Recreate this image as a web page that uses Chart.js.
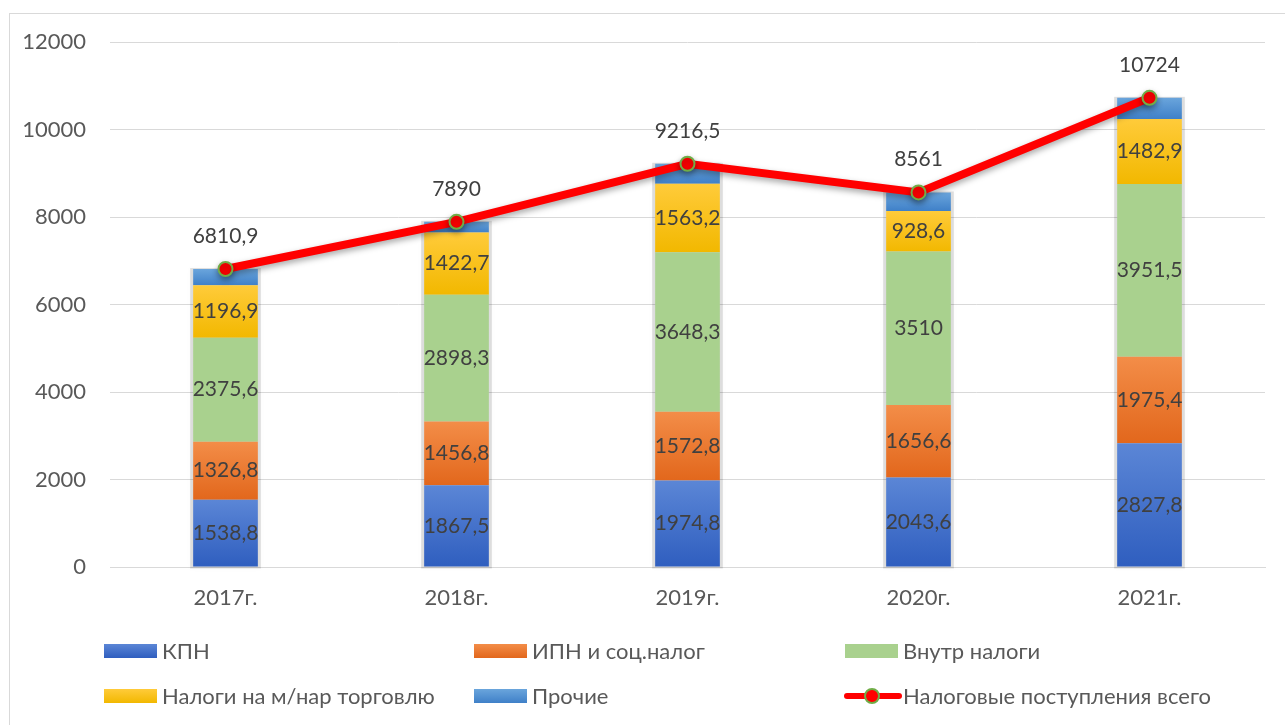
<!DOCTYPE html>
<html>
<head>
<meta charset="utf-8">
<script src="https://cdn.jsdelivr.net/npm/chart.js@4.4.1/dist/chart.umd.min.js"></script>
<style>
  html, body { margin: 0; padding: 0; background: #fff; }
  canvas { display: block; }
</style>
</head>
<body>
<canvas id="chart" width="1285" height="725"></canvas>
<script>
// data
const years   = ['2017г.', '2018г.', '2019г.', '2020г.', '2021г.'];
const kpn     = [1538.8, 1867.5, 1974.8, 2043.6, 2827.8];
const ipn     = [1326.8, 1456.8, 1572.8, 1656.6, 1975.4];
const vnutr   = [2375.6, 2898.3, 3648.3, 3510, 3951.5];
const torg    = [1196.9, 1422.7, 1563.2, 928.6, 1482.9];
const prochie = [372.8, 244.7, 457.4, 422.2, 486.4];
const total   = [6810.9, 7890, 9216.5, 8561, 10724];
const yTicks  = [0, 2000, 4000, 6000, 8000, 10000, 12000];

const FONT = 'Lato, "Open Sans", sans-serif';

// [top, bottom] colours of each bar segment
const barColors = [
  ['#5b86d6', '#2f5ebf'],
  ['#f38d48', '#e2671c'],
  ['#a9d18e', '#a9d18e'],
  ['#ffcb3a', '#f2b800'],
  ['#6aa5dc', '#3f80c8']
];

const fmt = v => String(v).replace('.', ',');

function gradient(idx) {
  return ctx => {
    const chart = ctx.chart;
    const [top, bottom] = barColors[idx];
    if (!chart.chartArea || ctx.type !== 'data') return bottom;
    const y = chart.scales.y;
    const i = ctx.dataIndex;
    let start = 0;
    for (let d = 0; d < idx; d++) start += chart.data.datasets[d].data[i];
    const end = start + chart.data.datasets[idx].data[i];
    const g = chart.ctx.createLinearGradient(0, y.getPixelForValue(end), 0, y.getPixelForValue(start));
    g.addColorStop(0, top);
    g.addColorStop(1, bottom);
    return g;
  };
}

function barSet(label, data, idx) {
  return {
    type: 'bar', label, data, order: 1,
    backgroundColor: gradient(idx),
    borderWidth: 0,
    barPercentage: 0.28,
    categoryPercentage: 1,
    showValue: idx !== 4
  };
}

// frame, bar shadows, line shadow
const decor = {
  id: 'decor',
  beforeDraw(chart) {
    const c = chart.ctx;
    c.save();
    c.strokeStyle = '#d9d9d9';
    c.lineWidth = 1;
    c.strokeRect(9.5, 13.5, 1400, 800);
    c.restore();
  },
  beforeDatasetsDraw(chart) {
    const c = chart.ctx;
    const bars = chart.getDatasetMeta(0).data;
    const tops = chart.getDatasetMeta(4).data;
    c.save();
    c.fillStyle = 'rgba(0,0,0,0.12)';
    c.shadowColor = 'rgba(0,0,0,0.2)';
    c.shadowBlur = 5;
    bars.forEach((b, i) => {
      const t = tops[i];
      const half = b.width / 2 + 3;
      c.fillRect(b.x - half, t.y - 1, half * 2, b.base - t.y + 3);
    });
    c.restore();
  },
  beforeDatasetDraw(chart, args) {
    if (args.meta.type === 'line') {
      const c = chart.ctx;
      c.save();
      c.shadowColor = 'rgba(0,0,0,0.35)';
      c.shadowBlur = 6;
      c.shadowOffsetY = 3;
    }
  },
  afterDatasetDraw(chart, args) {
    if (args.meta.type === 'line') chart.ctx.restore();
  }
};

// value labels
const valueLabels = {
  id: 'valueLabels',
  afterDatasetsDraw(chart) {
    const c = chart.ctx;
    c.save();
    c.font = '21px ' + FONT;
    c.fillStyle = '#404040';
    c.textAlign = 'center';
    c.textBaseline = 'middle';
    chart.data.datasets.forEach((ds, di) => {
      const meta = chart.getDatasetMeta(di);
      meta.data.forEach((el, i) => {
        if (meta.type === 'bar' && ds.showValue) {
          c.fillText(fmt(ds.data[i]), el.x, (el.y + el.base) / 2);
        } else if (meta.type === 'line') {
          c.fillText(fmt(ds.data[i]), el.x, el.y - 33);
        }
      });
    });
    c.restore();
  }
};

// three-column legend under the plot
const gridLegend = {
  id: 'gridLegend',
  afterDraw(chart) {
    const c = chart.ctx;
    const colX = [104, 474, 845];
    const rowY = [651, 696];
    c.save();
    c.font = '22px ' + FONT;
    c.textBaseline = 'middle';
    chart.data.datasets.forEach((ds, i) => {
      const x = colX[i % 3], y = rowY[Math.floor(i / 3)];
      if (ds.type === 'bar') {
        const [top, bottom] = barColors[i];
        const g = c.createLinearGradient(0, y - 7, 0, y + 7);
        g.addColorStop(0, top);
        g.addColorStop(1, bottom);
        c.fillStyle = g;
        c.fillRect(x, y - 7, 53, 14);
      } else {
        c.strokeStyle = ds.borderColor;
        c.lineWidth = 6;
        c.lineCap = 'round';
        c.beginPath();
        c.moveTo(x + 2, y);
        c.lineTo(x + 54, y);
        c.stroke();
        c.beginPath();
        c.arc(x + 27, y, 7, 0, Math.PI * 2);
        c.fillStyle = ds.pointBackgroundColor;
        c.fill();
        c.lineWidth = 2;
        c.strokeStyle = ds.pointBorderColor;
        c.stroke();
      }
      c.fillStyle = '#595959';
      c.fillText(ds.label, x + 58, y + 1);
    });
    c.restore();
  }
};

new Chart(document.getElementById('chart'), {
  data: {
    labels: years,
    datasets: [
      barSet('КПН', kpn, 0),
      barSet('ИПН и соц.налог', ipn, 1),
      barSet('Внутр налоги', vnutr, 2),
      barSet('Налоги на м/нар торговлю', torg, 3),
      barSet('Прочие', prochie, 4),
      {
        type: 'line', label: 'Налоговые поступления всего', data: total, order: 0,
        borderColor: '#ff0000', borderWidth: 8, tension: 0,
        pointRadius: 7, pointHoverRadius: 7,
        pointBackgroundColor: '#ff0000', pointBorderColor: '#70ad47', pointBorderWidth: 2
      }
    ]
  },
  options: {
    responsive: false,
    animation: false,
    layout: { padding: { top: 42, right: 20, bottom: 0, left: 0 } },
    plugins: { legend: { display: false }, tooltip: { enabled: false } },
    scales: {
      x: {
        stacked: true,
        grid: { display: false, drawTicks: false },
        border: { color: '#d9d9d9', width: 1 },
        ticks: { color: '#595959', font: { family: FONT, size: 22 }, padding: 18 },
        afterFit: s => { s.height = 158; }
      },
      y: {
        stacked: true,
        min: yTicks[0], max: yTicks[yTicks.length - 1],
        afterBuildTicks: s => { s.ticks = yTicks.map(v => ({ value: v })); },
        grid: { color: '#d9d9d9', drawTicks: false },
        border: { display: false },
        ticks: {
          color: '#595959', font: { family: FONT, size: 22 }, padding: 24,
          callback: v => String(v)
        },
        afterFit: s => { s.width = 110; }
      }
    }
  },
  plugins: [decor, valueLabels, gridLegend]
});
</script>
</body>
</html>
